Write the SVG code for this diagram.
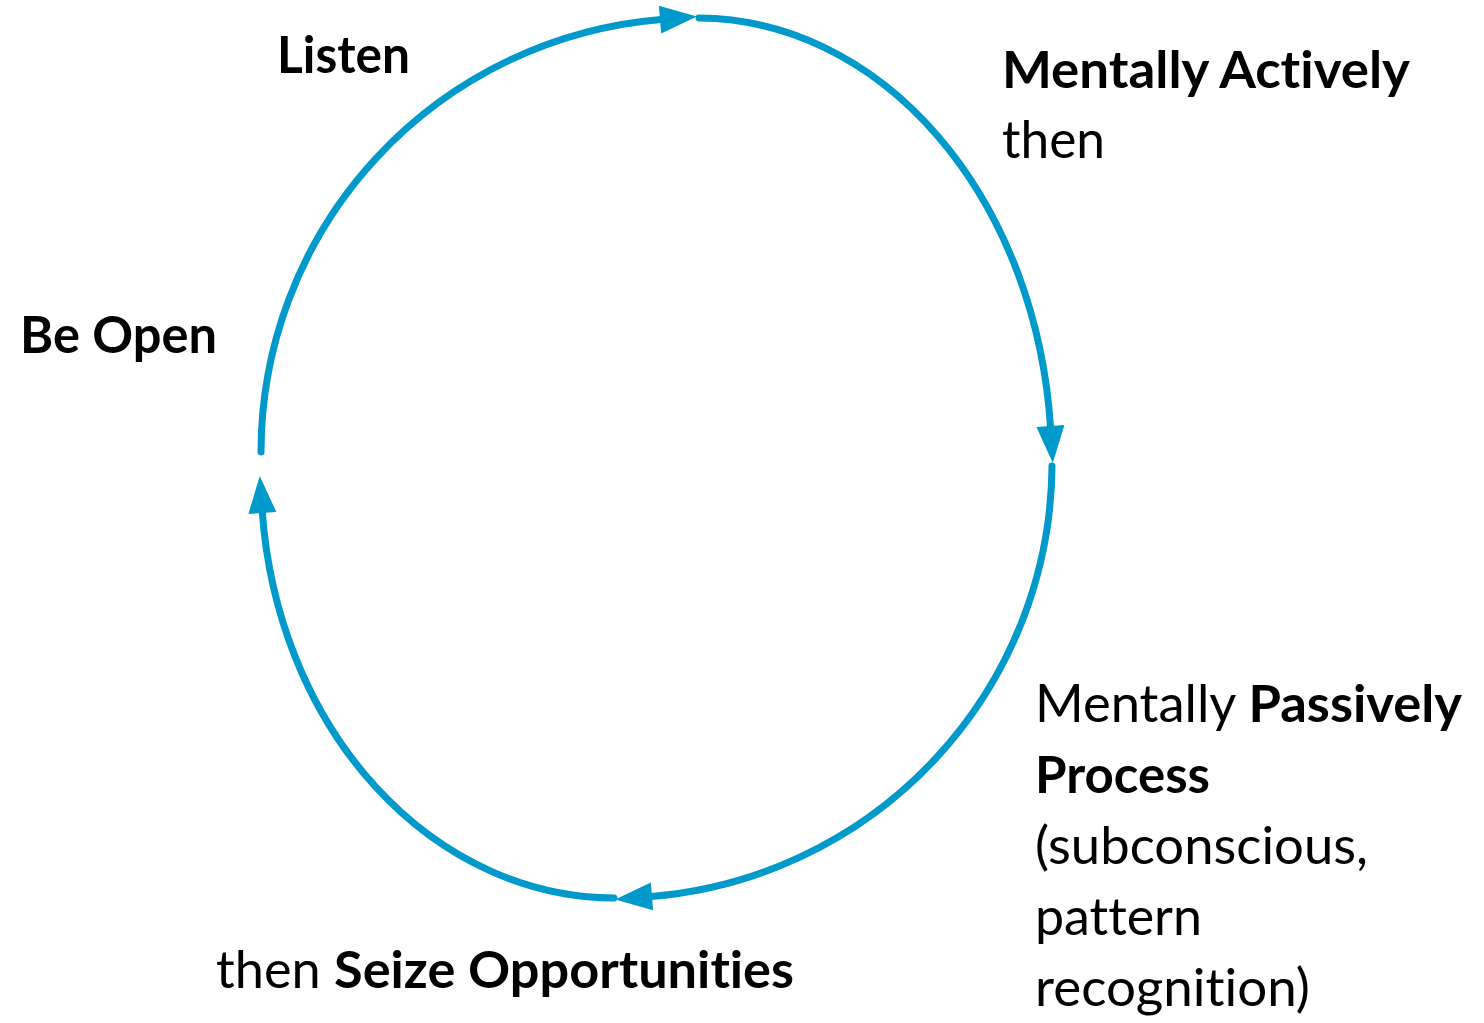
<svg xmlns="http://www.w3.org/2000/svg" width="1484" height="1023" viewBox="0 0 1484 1023">
<style>
.arc{fill:none;stroke:#0099CC;stroke-width:7;stroke-linecap:round;marker-end:url(#ah)}
.t{font-family:Lato,"Open Sans","Liberation Sans",sans-serif;font-size:52px;fill:#000;font-variant-ligatures:none;font-feature-settings:"liga" 0,"clig" 0,"dlig" 0}
.b{font-weight:bold}
</style>
<defs>
<marker id="ah" markerUnits="userSpaceOnUse" markerWidth="40" markerHeight="30" refX="1" refY="14" orient="auto" overflow="visible">
<path d="M0,0 L37,14 L0,28 Z" fill="#0099CC"/>
</marker>
</defs>
<rect width="1484" height="1023" fill="#fff"/>
<g id="connectors">
<path class="arc" d="M 261 452 A 436 434 0 0 1 661 19.5"/>
<path class="arc" d="M 699 18 A 354 445 0 0 1 1050.5 427"/>
<path class="arc" d="M 1052 466 A 437 435 0 0 1 651 896.5"/>
<path class="arc" d="M 614 898 A 354 422 0 0 1 262.3 512"/>
</g>
<g id="listen"><text class="t b" x="277" y="73" textLength="133" lengthAdjust="spacingAndGlyphs">Listen</text></g>
<g id="mentally-actively">
<text class="t b" x="1002" y="88" textLength="408" lengthAdjust="spacingAndGlyphs">Mentally Actively</text>
<text class="t" x="1002" y="158" textLength="103" lengthAdjust="spacingAndGlyphs">then</text>
</g>
<g id="be-open"><text class="t b" x="20" y="353" textLength="197" lengthAdjust="spacingAndGlyphs">Be Open</text></g>
<g id="mentally-passively">
<text class="t" x="1035" y="722" textLength="427" lengthAdjust="spacingAndGlyphs">Mentally <tspan class="b">Passively</tspan></text>
<text class="t b" x="1035" y="793" textLength="175" lengthAdjust="spacingAndGlyphs">Process</text>
<text class="t" x="1035" y="864" textLength="333" lengthAdjust="spacingAndGlyphs">(subconscious,</text>
<text class="t" x="1035" y="935" textLength="167" lengthAdjust="spacingAndGlyphs">pattern</text>
<text class="t" x="1035" y="1006" textLength="275" lengthAdjust="spacingAndGlyphs">recognition)</text>
</g>
<g id="seize"><text class="t" x="216" y="988" textLength="578" lengthAdjust="spacingAndGlyphs">then <tspan class="b">Seize Opportunities</tspan></text></g>
</svg>
